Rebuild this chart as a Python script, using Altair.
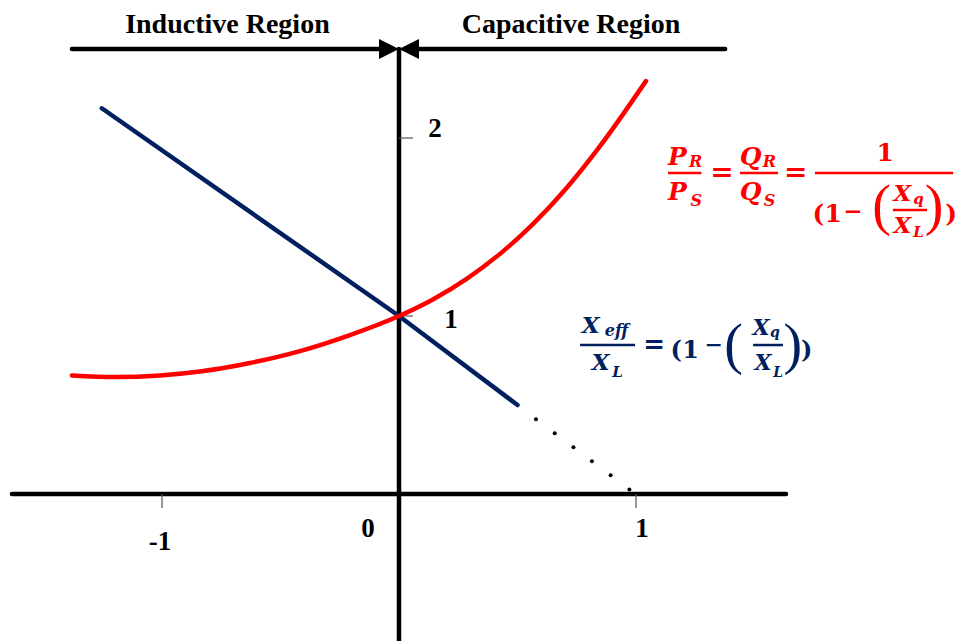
import altair as alt
import pandas as pd

# ---- curve data (per-unit values) ----
# P_R/P_S = Q_R/Q_S curve
ratio_x = [-1.380, -1.198, -1.008, -0.840, -0.629, -0.418, -0.207, 0.0,
           0.143, 0.287, 0.426, 0.565, 0.709, 0.848, 1.042]
ratio_y = [0.666, 0.657, 0.666, 0.688, 0.736, 0.803, 0.893, 1.0,
           1.093, 1.210, 1.349, 1.516, 1.722, 1.954, 2.320]

# X_eff / X_L line (solid part)
xeff_x = [-1.254, 0.0, 0.5]
xeff_y = [2.167, 1.0, 0.5]

# X_eff / X_L continuation (dotted part)
dots_x = [0.578, 0.657, 0.736, 0.814, 0.893, 0.972]
dots_y = [0.420, 0.341, 0.262, 0.184, 0.105, 0.026]

x_ticks = [-1, 1]
y_ticks = [1, 2]

RED = "#FF0000"
NAVY = "#002060"

X = alt.Scale(domain=[-1.6835, 2.3586], nice=False, zero=False)
Y = alt.Scale(domain=[-0.8258, 2.7753], nice=False, zero=False)


def pos(xf="x", yf="y"):
    return dict(x=alt.X(f"{xf}:Q", scale=X, axis=None),
                y=alt.Y(f"{yf}:Q", scale=Y, axis=None))


# ---- axes, region arrows, ticks ----
axis_df = pd.DataFrame([
    dict(x=-1.633, x2=1.633, y=0.0, y2=0.0),      # horizontal axis
    dict(x=0.0, x2=0.0, y=2.50, y2=-0.85),        # vertical axis
    dict(x=-1.380, x2=-0.05, y=2.50, y2=2.50),    # inductive region arrow
    dict(x=1.376, x2=0.05, y=2.50, y2=2.50),      # capacitive region arrow
])
axes = alt.Chart(axis_df).mark_rule(color="black", strokeWidth=4.5, strokeCap="round").encode(
    x=alt.X("x:Q", scale=X, axis=None), x2="x2:Q",
    y=alt.Y("y:Q", scale=Y, axis=None), y2="y2:Q")

tick_df = pd.DataFrame(
    [dict(x=v, x2=v, y=0.0, y2=-0.079) for v in x_ticks] +
    [dict(x=0.0, x2=0.059, y=v, y2=v) for v in y_ticks])
ticks = alt.Chart(tick_df).mark_rule(color="#555555", strokeWidth=1.2).encode(
    x=alt.X("x:Q", scale=X, axis=None), x2="x2:Q",
    y=alt.Y("y:Q", scale=Y, axis=None), y2="y2:Q")

head_right = "M 0 0 L -1 -0.5 L -1 0.5 Z"
head_left = "M 0 0 L 1 -0.5 L 1 0.5 Z"
head_df = pd.DataFrame([dict(x=0.0, y=2.50)])
arrow_r = alt.Chart(head_df).mark_point(shape=head_right, size=1600, filled=True,
                                        color="black", opacity=1, strokeWidth=0).encode(**pos())
arrow_l = alt.Chart(head_df).mark_point(shape=head_left, size=1600, filled=True,
                                        color="black", opacity=1, strokeWidth=0).encode(**pos())

# ---- curves ----
ratio_df = pd.DataFrame({"x": ratio_x, "y": ratio_y})
ratio_line = alt.Chart(ratio_df).mark_line(color=RED, strokeWidth=4.5, strokeCap="round",
                                           interpolate="monotone").encode(**pos())

xeff_df = pd.DataFrame({"x": xeff_x, "y": xeff_y})
xeff_line = alt.Chart(xeff_df).mark_line(color=NAVY, strokeWidth=4.5,
                                         strokeCap="round").encode(**pos())

dots_df = pd.DataFrame({"x": dots_x, "y": dots_y})
dots = alt.Chart(dots_df).mark_circle(color="black", size=16, opacity=1).encode(**pos())

# ---- axis and region labels ----
label_df = pd.DataFrame([
    dict(t="Inductive Region", x=-0.724, y=2.590, s=28),
    dict(t="Capacitive Region", x=0.726, y=2.590, s=28),
    dict(t="2", x=0.152, y=2.006, s=27),
    dict(t="1", x=0.219, y=0.933, s=27),
    dict(t="-1", x=-1.008, y=-0.315, s=27),
    dict(t="0", x=-0.131, y=-0.242, s=27),
    dict(t="1", x=1.025, y=-0.242, s=27),
])


def text_layer(df, **props):
    return alt.Chart(df).mark_text(align="center", **props).encode(
        **pos(), text="t:N",
        size=alt.Size("s:Q", scale=None, legend=None),
        color=alt.Color("c:N", scale=None, legend=None))


label_df["c"] = "black"
labels = text_layer(label_df, font="Liberation Serif", fontWeight="bold", baseline="alphabetic")

# ---- formulas ----
letters = pd.DataFrame([
    # P_R / P_S = Q_R / Q_S = 1 / (1 - (X_q / X_L))
    dict(t="P", x=1.175, y=1.848, s=25, c=RED),
    dict(t="R", x=1.252, y=1.838, s=16, c=RED),
    dict(t="P", x=1.175, y=1.652, s=25, c=RED),
    dict(t="S", x=1.254, y=1.618, s=16, c=RED),
    dict(t="Q", x=1.484, y=1.848, s=25, c=RED),
    dict(t="R", x=1.563, y=1.838, s=16, c=RED),
    dict(t="Q", x=1.484, y=1.652, s=25, c=RED),
    dict(t="S", x=1.563, y=1.618, s=16, c=RED),
    dict(t="X", x=2.124, y=1.648, s=23, c=RED),
    dict(t="q", x=2.192, y=1.632, s=15, c=RED),
    dict(t="X", x=2.124, y=1.466, s=23, c=RED),
    dict(t="L", x=2.192, y=1.444, s=15, c=RED),
    # X_eff / X_L = (1 - (X_q / X_L))
    dict(t="X", x=0.809, y=0.904, s=23, c=NAVY),
    dict(t="eff", x=0.918, y=0.890, s=16, c=NAVY),
    dict(t="X", x=0.851, y=0.697, s=23, c=NAVY),
    dict(t="L", x=0.922, y=0.657, s=15, c=NAVY),
    dict(t="X", x=1.528, y=0.893, s=22, c=NAVY),
    dict(t="q", x=1.586, y=0.880, s=14, c=NAVY),
    dict(t="X", x=1.536, y=0.697, s=22, c=NAVY),
    dict(t="L", x=1.600, y=0.657, s=14, c=NAVY),
])
upright = pd.DataFrame([
    dict(t="1", x=2.051, y=1.872, s=25, c=RED),
    dict(t="(", x=1.770, y=1.528, s=25, c=RED),
    dict(t="1", x=1.832, y=1.528, s=25, c=RED),
    dict(t=")", x=2.330, y=1.528, s=25, c=RED),
    dict(t="(", x=1.170, y=0.764, s=24, c=NAVY),
    dict(t="1", x=1.230, y=0.764, s=24, c=NAVY),
    dict(t=")", x=1.720, y=0.764, s=24, c=NAVY),
])
operators = pd.DataFrame([
    dict(t="=", x=1.363, y=1.803, s=28, c=RED),
    dict(t="=", x=1.674, y=1.803, s=28, c=RED),
    dict(t="\u2212", x=1.915, y=1.583, s=23, c=RED),
    dict(t="=", x=1.077, y=0.837, s=26, c=NAVY),
    dict(t="\u2212", x=1.328, y=0.835, s=22, c=NAVY),
])
big_parens = pd.DataFrame([
    dict(t="(", x=2.036, y=1.610, s=56, c=RED),
    dict(t=")", x=2.258, y=1.610, s=56, c=RED),
    dict(t="(", x=1.412, y=0.832, s=56, c=NAVY),
    dict(t=")", x=1.662, y=0.832, s=56, c=NAVY),
])
bars = pd.DataFrame([
    dict(x=1.135, x2=1.276, y=1.803, c=RED),
    dict(x=1.439, x2=1.599, y=1.803, c=RED),
    dict(x=1.755, x2=2.338, y=1.803, c=RED),
    dict(x=2.084, x2=2.228, y=1.596, c=RED),
    dict(x=0.764, x2=0.996, y=0.837, c=NAVY),
    dict(x=1.494, x2=1.620, y=0.837, c=NAVY),
])

f_letters = text_layer(letters, font="DejaVu Serif", fontWeight="bold",
                       fontStyle="italic", baseline="alphabetic")
f_upright = text_layer(upright, font="DejaVu Serif", fontWeight="bold", baseline="alphabetic")
f_ops = text_layer(operators, font="DejaVu Serif", fontWeight="bold", baseline="middle")
f_parens = text_layer(big_parens, font="Liberation Serif", fontWeight="normal", baseline="middle")
f_bars = alt.Chart(bars).mark_rule(strokeWidth=2.5).encode(
    x=alt.X("x:Q", scale=X, axis=None), x2="x2:Q",
    y=alt.Y("y:Q", scale=Y, axis=None),
    color=alt.Color("c:N", scale=None, legend=None))

chart = alt.layer(
    axes, ticks, arrow_r, arrow_l,
    xeff_line, dots, ratio_line,
    labels, f_bars, f_letters, f_upright, f_ops, f_parens,
).properties(
    width=958, height=641,
    autosize=alt.AutoSizeParams(type="none"),
    padding=0, background="white",
).configure_view(stroke=None)

chart.save("out.html", embed_options={"renderer": "svg", "actions": False})
